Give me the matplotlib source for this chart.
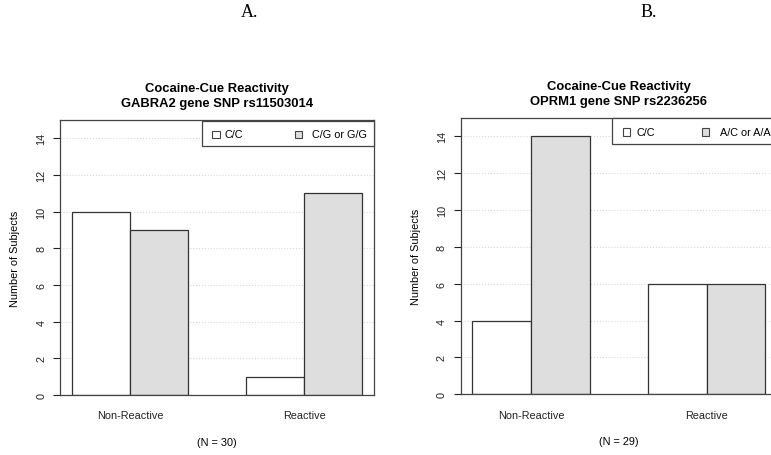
import matplotlib
matplotlib.use('Agg')
import matplotlib.pyplot as plt
from matplotlib.patches import Rectangle

plt.rcParams['font.family'] = ['Liberation Sans', 'DejaVu Sans']

W, H = 771, 456

groups = ['Non-Reactive', 'Reactive']

# panel A
titleA = 'Cocaine-Cue Reactivity\nGABRA2 gene SNP rs11503014'
seriesA = ['C/C', 'C/G or G/G']
valuesA = [[10, 1], [9, 11]]   # per series, per group
nA = '(N = 30)'

# panel B
titleB = 'Cocaine-Cue Reactivity\nOPRM1 gene SNP rs2236256'
seriesB = ['C/C', 'A/C or A/A']
valuesB = [[4, 6], [14, 6]]
nB = '(N = 29)'

fills = ['white', '#DEDEDE']
edge = '#333333'

fig = plt.figure(figsize=(W / 100, H / 100), dpi=100)


def fx(x):
    return x / W


def fy(y):
    return 1 - y / H


def panel(rect, title, series, values, ntext, leg):
    x0, x1, ytop, ybot = rect
    ax = fig.add_axes([fx(x0), fy(ybot), fx(x1 - x0), (ybot - ytop) / H])
    for j, vals in enumerate(values):
        xs = [g * 3 + 1.5 + j for g in range(len(groups))]
        ax.bar(xs, vals, width=1, color=fills[j], edgecolor=edge, linewidth=0.9, zorder=2)
    ax.set_xlim(0.8, 6.2)
    ax.set_ylim(0, 15)
    ax.set_yticks(range(0, 15, 2))
    ax.set_yticklabels([str(v) for v in range(0, 15, 2)], rotation=90, va='center', fontsize=7.8)
    ax.tick_params(axis='y', length=5, width=0.8, pad=5, colors='#222222')
    ax.set_xticks([g * 3 + 2 for g in range(len(groups))])
    ax.set_xticklabels(groups, fontsize=7.8)
    ax.tick_params(axis='x', length=0, pad=11, colors='#222222')
    ax.grid(axis='y', linestyle=':', color='#D9D9D9', linewidth=0.8, zorder=0)
    ax.set_axisbelow(True)
    for s in ax.spines.values():
        s.set_color('#444444')
        s.set_linewidth(0.9)
    ax.set_ylabel('Number of Subjects', fontsize=7.8)
    ax.yaxis.set_label_coords(-40 / (x1 - x0), 0.5)
    ax.set_xlabel(ntext, fontsize=7.8, labelpad=12)
    ax.set_title(title, fontsize=9.4, fontweight='bold', linespacing=1.3, pad=10)

    # legend box in figure pixels
    lx0, lx1, ly0, ly1, sq, tx = leg
    fig.patches.append(Rectangle((fx(lx0), fy(ly1)), fx(lx1 - lx0), (ly1 - ly0) / H,
                                 transform=fig.transFigure, facecolor='white',
                                 edgecolor='#444444', linewidth=0.9, zorder=5))
    yc = (ly0 + ly1) / 2 + 1
    for j, name in enumerate(series):
        s = 7.5
        fig.patches.append(Rectangle((fx(sq[j] - s / 2), fy(yc + s / 2)), fx(s), s / H,
                                     transform=fig.transFigure, facecolor=fills[j],
                                     edgecolor='#444444', linewidth=0.8, zorder=6))
        fig.text(fx(tx[j]), fy(yc), name, fontsize=7.8, va='center', ha='left', zorder=7)
    return ax


panel((60.4, 373.6, 121, 396), titleA, seriesA, valuesA, nA,
      (202.3, 373.6, 121.7, 147.3, (216, 298.7), (224.3, 312.3)))
panel((460.7, 777, 118.9, 395.3), titleB, seriesB, valuesB, nB,
      (612.3, 790, 118.7, 145.3, (626.7, 705.3), (636.7, 720)))

fig.text(fx(250), fy(12.5), 'A.', family='Liberation Serif', fontsize=13, ha='center', va='center')
fig.text(fx(649), fy(12.5), 'B.', family='Liberation Serif', fontsize=13, ha='center', va='center')

fig.savefig('out.png', dpi=100)
